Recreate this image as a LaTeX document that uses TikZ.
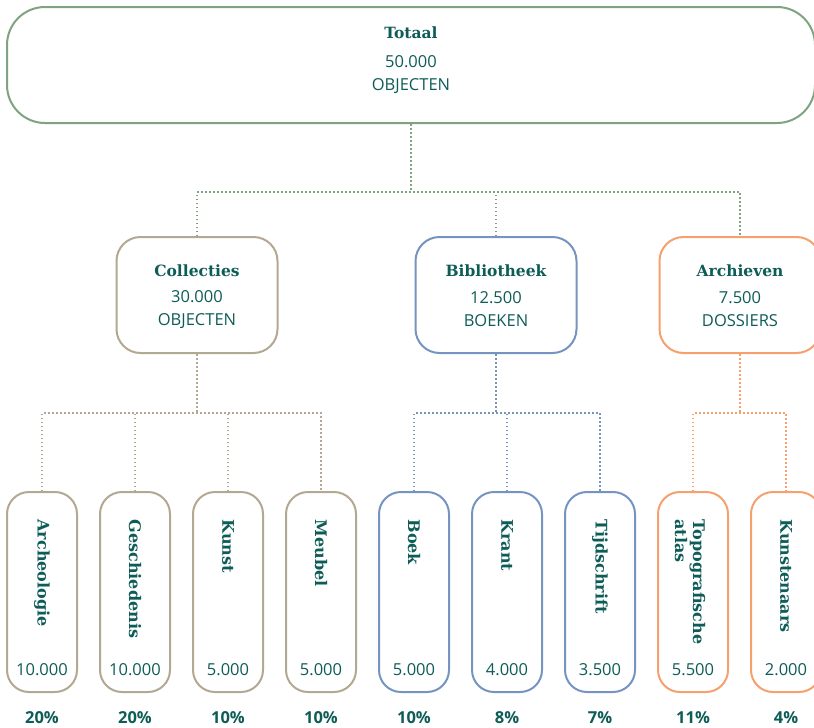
\documentclass[tikz,border=0pt]{standalone}
\usepackage{fontspec}
\setmainfont{DejaVu Serif}
\setsansfont{Open Sans}
\usetikzlibrary{positioning}
\definecolor{tekst}{HTML}{0D5C57}
\definecolor{groen}{HTML}{7FA37F}
\definecolor{zand}{HTML}{B3A892}
\definecolor{blauw}{HTML}{7594BF}
\definecolor{oranje}{HTML}{F5A06E}
\tikzset{
  hoofd/.style={draw=groen, line width=2pt, rounded corners=38pt, minimum width=808pt, minimum height=116pt},
  groep/.style={draw, line width=2pt, rounded corners=24pt, minimum width=161pt, minimum height=116pt},
  blad/.style={draw, line width=2pt, rounded corners=22pt, minimum width=70pt, minimum height=200pt},
  kop/.style={font=\bfseries\fontsize{15.5}{18}\selectfont, text=tekst},
  getal/.style={font=\sffamily\fontsize{16.5}{23}\selectfont, text=tekst, align=center},
  bladtekst/.style={font=\bfseries\fontsize{16}{18}\selectfont, text=tekst, rotate=-90, anchor=west, align=left},
  pct/.style={font=\sffamily\bfseries\fontsize{16.5}{18}\selectfont, text=tekst},
  lijn/.style={line width=1.5pt, dash pattern=on 1.5pt off 2.5pt}
}
\begin{document}
\begin{tikzpicture}[x=1pt, y=-1pt]
  \useasboundingbox (0,0) rectangle (814,728);
  % totaal
  \node[hoofd] (tot) at (411,65) {};
  \node[kop] (totkop) at (411,33) {Totaal};
  \node[getal] (totgetal) at (411,74.5) {50.000\\OBJECTEN};
  % groepen
  \node[groep, draw=zand] (col) at (197,295) {};
  \node[kop] (colkop) at (col.center |- 0,271) {Collecties};
  \node[getal] (colgetal) at (col.center |- 0,309.5) {30.000\\OBJECTEN};
  \node[groep, draw=blauw] (bib) at (496,295) {};
  \node[kop] (bibkop) at (bib.center |- 0,271) {Bibliotheek};
  \node[getal] (bibgetal) at (bib.center |- 0,309.5) {12.500\\BOEKEN};
  \node[groep, draw=oranje] (arc) at (740,295) {};
  \node[kop] (arckop) at (arc.center |- 0,271) {Archieven};
  \node[getal] (arcgetal) at (arc.center |- 0,309.5) {7.500\\DOSSIERS};
  % bladen
  \node[blad, draw=zand] (a1) at (42,592) {};
  \node[blad, draw=zand, right=21pt of a1] (a2) {};
  \node[blad, draw=zand, right=21pt of a2] (a3) {};
  \node[blad, draw=zand, right=21pt of a3] (a4) {};
  \node[blad, draw=blauw, right=21pt of a4] (b1) {};
  \node[blad, draw=blauw, right=21pt of b1] (b2) {};
  \node[blad, draw=blauw, right=21pt of b2] (b3) {};
  \node[blad, draw=oranje, right=21pt of b3] (c1) {};
  \node[blad, draw=oranje, right=21pt of c1] (c2) {};
  \node[bladtekst] (a1t) at ([yshift=-25pt]a1.north) {Archeologie};
  \node[bladtekst] (a2t) at ([yshift=-25pt]a2.north) {Geschiedenis};
  \node[bladtekst] (a3t) at ([yshift=-25pt]a3.north) {Kunst};
  \node[bladtekst] (a4t) at ([yshift=-25pt]a4.north) {Meubel};
  \node[bladtekst] (b1t) at ([yshift=-25pt]b1.north) {Boek};
  \node[bladtekst] (b2t) at ([yshift=-25pt]b2.north) {Krant};
  \node[bladtekst] (b3t) at ([yshift=-25pt]b3.north) {Tijdschrift};
  \node[bladtekst] (c1t) at ([xshift=-3pt,yshift=-25pt]c1.north) {Topografische\\atlas};
  \node[bladtekst] (c2t) at ([yshift=-25pt]c2.north) {Kunstenaars};
  \node[getal] (a1g) at ([yshift=23pt]a1.south) {10.000};
  \node[getal] (a2g) at ([yshift=23pt]a2.south) {10.000};
  \node[getal] (a3g) at ([yshift=23pt]a3.south) {5.000};
  \node[getal] (a4g) at ([yshift=23pt]a4.south) {5.000};
  \node[getal] (b1g) at ([yshift=23pt]b1.south) {5.000};
  \node[getal] (b2g) at ([yshift=23pt]b2.south) {4.000};
  \node[getal] (b3g) at ([yshift=23pt]b3.south) {3.500};
  \node[getal] (c1g) at ([yshift=23pt]c1.south) {5.500};
  \node[getal] (c2g) at ([yshift=23pt]c2.south) {2.000};
  \node[pct] (a1p) at ([yshift=-25pt]a1.south) {20\%};
  \node[pct] (a2p) at ([yshift=-25pt]a2.south) {20\%};
  \node[pct] (a3p) at ([yshift=-25pt]a3.south) {10\%};
  \node[pct] (a4p) at ([yshift=-25pt]a4.south) {10\%};
  \node[pct] (b1p) at ([yshift=-25pt]b1.south) {10\%};
  \node[pct] (b2p) at ([yshift=-25pt]b2.south) {8\%};
  \node[pct] (b3p) at ([yshift=-25pt]b3.south) {7\%};
  \node[pct] (c1p) at ([yshift=-25pt]c1.south) {11\%};
  \node[pct] (c2p) at ([yshift=-25pt]c2.south) {4\%};
  % verbindingen
  \coordinate (j0) at (412,192);
  \coordinate (j1) at (0,413);
  \draw[lijn, groen] (tot.south) -- (tot.south |- j0);
  \draw[lijn, groen] (col.north) -- (col.north |- j0) -- (arc.north |- j0) -- (arc.north);
  \draw[lijn, groen] (bib.north) -- (bib.north |- j0);
  \draw[lijn, zand] (col.south) -- (col.south |- j1);
  \draw[lijn, zand] (a1.north) -- (a1.north |- j1) -- (a4.north |- j1) -- (a4.north);
  \draw[lijn, zand] (a2.north) -- (a2.north |- j1);
  \draw[lijn, zand] (a3.north) -- (a3.north |- j1);
  \draw[lijn, blauw] (bib.south) -- (bib.south |- j1);
  \draw[lijn, blauw] (b1.north) -- (b1.north |- j1) -- (b3.north |- j1) -- (b3.north);
  \draw[lijn, blauw] (b2.north) -- (b2.north |- j1);
  \draw[lijn, oranje] (arc.south) -- (arc.south |- j1);
  \draw[lijn, oranje] (c1.north) -- (c1.north |- j1) -- (c2.north |- j1) -- (c2.north);
\end{tikzpicture}
\end{document}
